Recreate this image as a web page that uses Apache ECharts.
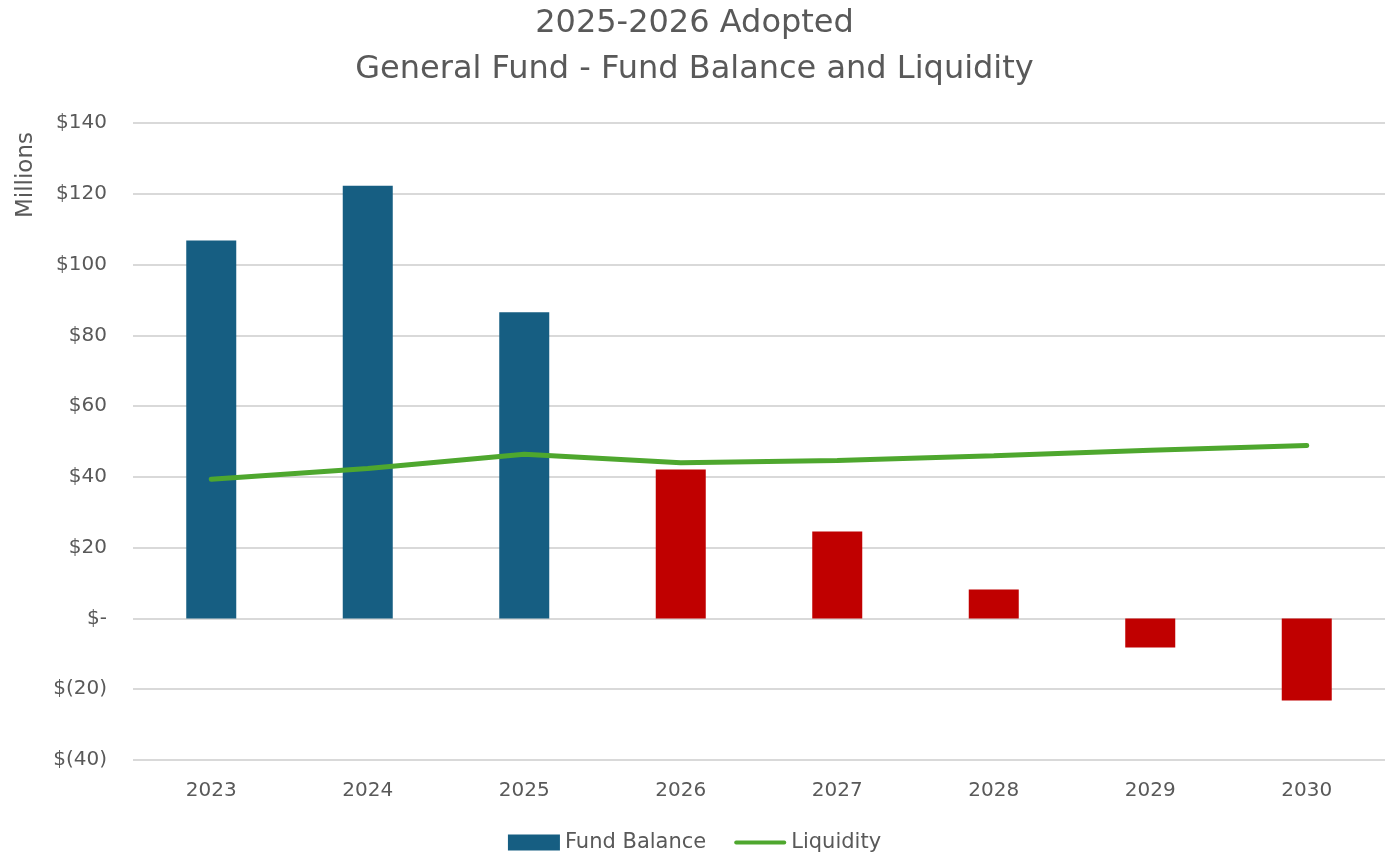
<!DOCTYPE html>
<html>
<head>
<meta charset="utf-8">
<script src="https://cdn.jsdelivr.net/npm/echarts@6/dist/echarts.min.js"></script>
<style>
  html, body { margin: 0; padding: 0; background: #fff; }
  #chart { width: 1389px; height: 856px; }
</style>
</head>
<body>
<div id="chart"></div>
<script>
// ==================== DATA ====================
const years = ['2023', '2024', '2025', '2026', '2027', '2028', '2029', '2030'];
const fundBalance = [106.8, 122.3, 86.5, 42.1, 24.6, 8.2, -8.2, -23.2];
const liquidity = [39.3, 42.4, 46.4, 44.0, 44.6, 46.0, 47.5, 48.9];
const actualYears = 3; // first three bars are actuals (blue), rest projected (red)

const textC = '#595959';
const chart = echarts.init(document.getElementById('chart'));

const fmt = v => v === 0 ? '$-' : (v < 0 ? '$(' + Math.abs(v) + ')' : '$' + v);

chart.setOption({
  animation: false,
  backgroundColor: '#fff',
  textStyle: { fontFamily: 'DejaVu Sans, sans-serif' },
  title: {
    text: '2025-2026 Adopted\nGeneral Fund - Fund Balance and Liquidity',
    left: 'center', top: -4,
    textStyle: { color: textC, fontSize: 32, fontWeight: 'normal', lineHeight: 46 }
  },
  grid: { left: 133, right: 4, top: 123, bottom: 96 },
  legend: {
    bottom: -2, left: 'center', itemGap: 28,
    textStyle: { color: textC, fontSize: 21 },
    data: [
      { name: 'Fund Balance', icon: 'rect', itemStyle: { color: '#165E82' } },
      { name: 'Liquidity', icon: 'path://M2,0 L53,0 A2,2 0 0 1 53,4 L2,4 A2,2 0 0 1 2,0 Z', itemStyle: { color: '#4EA72E' } }
    ],
    itemWidth: 52, itemHeight: 16, itemStyle: { borderWidth: 0 }
  },
  xAxis: {
    type: 'category', data: years,
    axisLine: { show: false }, axisTick: { show: false },
    axisLabel: { color: textC, fontSize: 20, margin: 21 }
  },
  yAxis: {
    type: 'value', min: -40, max: 140, interval: 20,
    name: 'Millions', nameLocation: 'end', nameRotate: 90,
    nameGap: 0,
    nameTextStyle: { color: textC, fontSize: 23, align: 'right', verticalAlign: 'bottom', padding: [0, 9, 95, 0] },
    axisLine: { show: false }, axisTick: { show: false },
    axisLabel: { color: textC, fontSize: 20, margin: 26, formatter: fmt },
    splitLine: { lineStyle: { color: '#D9D9D9', width: 2 } }
  },
  series: [
    {
      name: 'Fund Balance', type: 'bar', barWidth: 50,
      data: fundBalance.map((v, i) => ({
        value: v,
        itemStyle: { color: i < actualYears ? '#165E82' : '#C00000' }
      })),
      itemStyle: { color: '#165E82' }
    },
    {
      name: 'Liquidity', type: 'line', data: liquidity,
      symbol: 'none', z: 5,
      lineStyle: { color: '#4EA72E', width: 5, cap: 'round' },
      itemStyle: { color: '#4EA72E' }
    }
  ]
});
</script>
</body>
</html>
